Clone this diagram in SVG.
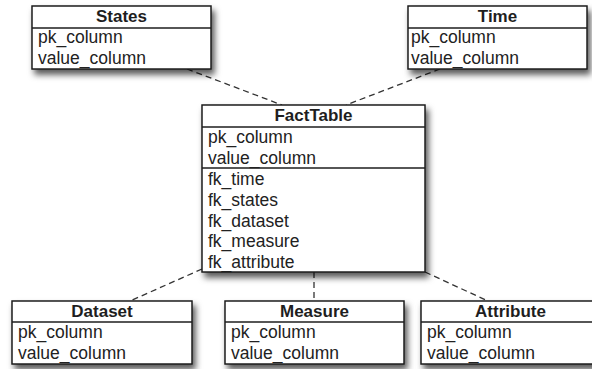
<svg xmlns="http://www.w3.org/2000/svg" width="592" height="369" viewBox="0 0 592 369">
<style>
  .box { fill: #ffffff; stroke: #1e1e1e; stroke-width: 1.5; filter: url(#shadow); }
  .sep { stroke: #1e1e1e; stroke-width: 1.3; }
  .title { font-family: "Liberation Sans", Arial, sans-serif; font-size: 17px; font-weight: bold; fill: #1e1e1e; text-anchor: middle; }
  .row { font-family: "Liberation Sans", Arial, sans-serif; font-size: 17.5px; fill: #222222; }
  .conn { stroke: #333333; stroke-width: 1.3; stroke-dasharray: 6 4; fill: none; }
</style>
<defs>
  <filter id="shadow" x="-10%" y="-10%" width="130%" height="150%">
    <feDropShadow dx="3" dy="5" stdDeviation="3" flood-color="#000000" flood-opacity="0.65"/>
  </filter>
</defs>
<rect width="592" height="369" fill="#ffffff"/>
<g id="connectors">
  <line class="conn" x1="187" y1="69" x2="282" y2="105"/>
  <line class="conn" x1="440" y1="69" x2="346" y2="105"/>
  <line class="conn" x1="202" y1="269" x2="130" y2="301"/>
  <line class="conn" x1="314" y1="272" x2="314" y2="301"/>
  <line class="conn" x1="425" y1="272" x2="488" y2="301"/>
</g>
<g id="States">
  <rect class="box" x="32" y="6" width="179" height="63"/>
  <line class="sep" x1="32" y1="28" x2="211" y2="28"/>
  <text class="title" x="121.5" y="22">States</text>
  <text class="row" x="38" y="43">pk_column</text>
  <text class="row" x="38" y="64">value_column</text>
</g>
<g id="Time">
  <rect class="box" x="408" y="6" width="179" height="63"/>
  <line class="sep" x1="408" y1="28" x2="587" y2="28"/>
  <text class="title" x="497.5" y="22">Time</text>
  <text class="row" x="411" y="43">pk_column</text>
  <text class="row" x="411" y="64">value_column</text>
</g>
<g id="FactTable">
  <rect class="box" x="202" y="105" width="223" height="167"/>
  <line class="sep" x1="202" y1="127" x2="425" y2="127"/>
  <line class="sep" x1="202" y1="168" x2="425" y2="168"/>
  <text class="title" x="313.5" y="121">FactTable</text>
  <text class="row" x="208" y="143">pk_column</text>
  <text class="row" x="208" y="164">value_column</text>
  <text class="row" x="208" y="185">fk_time</text>
  <text class="row" x="208" y="205.8">fk_states</text>
  <text class="row" x="208" y="226.6">fk_dataset</text>
  <text class="row" x="208" y="247.4">fk_measure</text>
  <text class="row" x="208" y="268.2">fk_attribute</text>
</g>
<g id="Dataset">
  <rect class="box" x="12" y="301" width="180" height="63"/>
  <line class="sep" x1="12" y1="322" x2="192" y2="322"/>
  <text class="title" x="102" y="317">Dataset</text>
  <text class="row" x="18" y="338">pk_column</text>
  <text class="row" x="18" y="359">value_column</text>
</g>
<g id="Measure">
  <rect class="box" x="225" y="301" width="179" height="63"/>
  <line class="sep" x1="225" y1="322" x2="404" y2="322"/>
  <text class="title" x="314.5" y="317">Measure</text>
  <text class="row" x="231" y="338">pk_column</text>
  <text class="row" x="231" y="359">value_column</text>
</g>
<g id="Attribute">
  <rect class="box" x="421" y="301" width="179" height="63"/>
  <line class="sep" x1="421" y1="322" x2="600" y2="322"/>
  <text class="title" x="510.5" y="317">Attribute</text>
  <text class="row" x="427" y="338">pk_column</text>
  <text class="row" x="427" y="359">value_column</text>
</g>
</svg>
